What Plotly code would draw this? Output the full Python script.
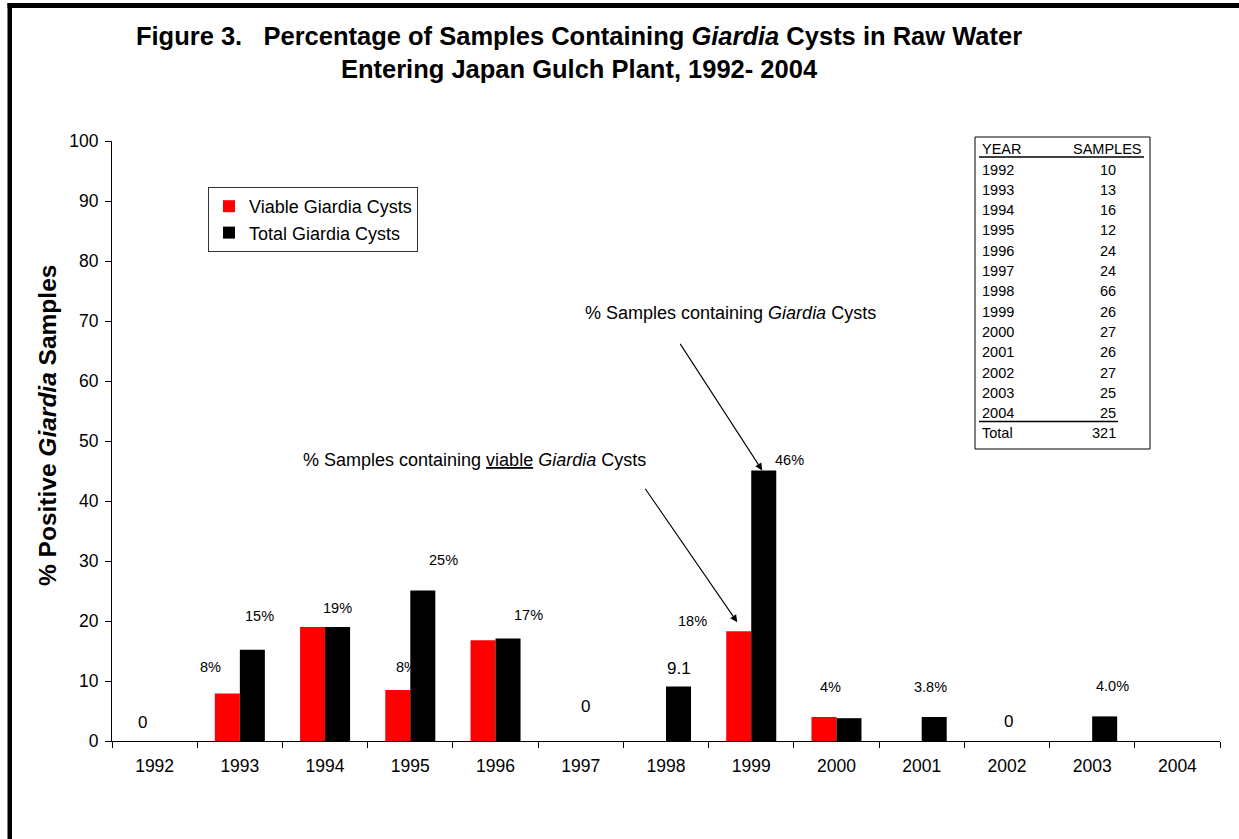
import plotly.graph_objects as go

# ---- data ----
years = ['1992', '1993', '1994', '1995', '1996', '1997', '1998',
         '1999', '2000', '2001', '2002', '2003', '2004']
viable_pct = [0, 7.9, 19.0, 8.5, 16.8, 0, 0, 18.3, 4.0, 0, 0, 0, 0]
total_pct = [0, 15.2, 19.0, 25.1, 17.1, 0, 9.1, 45.1, 3.8, 4.0, 0, 4.1, 0]
viable_labels = ['0', '8%', '', '8%', '', '0', '', '18%', '4%', '', '0', '', '']
total_labels = ['', '15%', '19%', '25%', '17%', '', '9.1', '46%', '', '3.8%', '', '4.0%', '']
sample_years = years + ['Total']
sample_counts = [10, 13, 16, 12, 24, 24, 66, 26, 27, 26, 27, 25, 25, 321]

# ---- layout helpers (pixel -> paper) ----
W, H = 1239, 839
ML, MR, MT, MB = 112, 19, 141, 98
FONT = 'Liberation Sans, Arial, sans-serif'


def px_x(px):
    return (px - ML) / (W - ML - MR)


def px_y(py):
    return (H - MB - py) / (H - MT - MB)


def note(px, py, text, size, **kw):
    # free text placed by pixel position, anchored at its centre unless told otherwise
    d = dict(x=px_x(px), y=px_y(py), xref='paper', yref='paper', showarrow=False, text=text,
             xanchor='center', yanchor='middle', font=dict(size=size, family=FONT, color='black'))
    d.update(kw)
    return d


# manual nudges for data labels (dx, dy in px from bar top centre)
viable_nudge = {'1992': (0, -19), '1993': (-17, -27), '1995': (9, -23), '1997': (17, -35),
                '1999': (-46, -10), '2000': (7, -30), '2002': (14, -20)}
total_nudge = {'1993': (7, -34), '1994': (0, -19), '1995': (21, -30), '1996': (20, -23),
               '1998': (0, -18), '1999': (26, -10), '2001': (-4, -30), '2003': (8, -30)}

fig = go.Figure()
fig.add_trace(go.Bar(x=years, y=viable_pct, name='Viable Giardia Cysts',
                     marker=dict(color='#FF0000', line=dict(width=0))))
fig.add_trace(go.Bar(x=years, y=total_pct, name='Total Giardia Cysts',
                     marker=dict(color='#000000', line=dict(width=0))))

annotations = []

# data labels (x given as category index)
for labels, vals, nudge, side in [(viable_labels, viable_pct, viable_nudge, -12.5),
                                  (total_labels, total_pct, total_nudge, 12.5)]:
    for i, (yr, lab, v) in enumerate(zip(years, labels, vals)):
        if not lab:
            continue
        dx, dy = nudge[yr]
        annotations.append(dict(x=i, y=v, xref='x', yref='y', text=lab, showarrow=False,
                                xshift=side + dx, yshift=-dy, xanchor='center', yanchor='middle',
                                font=dict(size=14.5 if '%' in lab else 17, family=FONT, color='black')))

# arrows + callout texts
i99 = years.index('1999')
annotations.append(dict(x=i99, y=total_pct[i99], xref='x', yref='y', text='', showarrow=True,
                        xshift=11, ax=-83, ay=-128, arrowhead=2, arrowsize=1.3, arrowwidth=1.1,
                        arrowcolor='black'))
annotations.append(dict(x=i99, y=viable_pct[i99], xref='x', yref='y', text='', showarrow=True,
                        xshift=-14, yshift=9, ax=-93, ay=-135, arrowhead=2, arrowsize=1.3,
                        arrowwidth=1.1, arrowcolor='black'))
annotations.append(note(730, 313, '% Samples containing <i>Giardia</i> Cysts', 18))
annotations.append(note(474, 460, '% Samples containing <u>viable</u> <i>Giardia</i> Cysts', 18))

# y-axis title
annotations.append(note(47, 426, '<b>% Positive <i>Giardia</i> Samples</b>', 24.5, textangle=-90))

# samples table
annotations.append(note(980, 149, 'YEAR', 14.5, xanchor='left'))
annotations.append(note(1144, 149, 'SAMPLES', 14.5, xanchor='right'))
for i, (yr, n) in enumerate(zip(sample_years, sample_counts)):
    py = 169.5 + 20.3 * i
    annotations.append(note(980, py, yr, 14.5, xanchor='left'))
    annotations.append(note(1118, py, str(n), 14.5, xanchor='right'))

shapes = [
    # table frame and underlines
    dict(type='rect', xref='paper', yref='paper', x0=px_x(975), x1=px_x(1150),
         y0=px_y(137), y1=px_y(449), line=dict(color='black', width=1)),
    dict(type='line', xref='paper', yref='paper', x0=px_x(979), x1=px_x(1144),
         y0=px_y(157), y1=px_y(157), line=dict(color='black', width=1.5)),
    dict(type='line', xref='paper', yref='paper', x0=px_x(979), x1=px_x(1118),
         y0=px_y(421.5), y1=px_y(421.5), line=dict(color='black', width=1.5)),
    # outer frame (left and top edges)
    dict(type='rect', xref='paper', yref='paper', x0=px_x(7.5), x1=px_x(12),
         y0=px_y(3), y1=px_y(845), fillcolor='black', line=dict(width=0)),
    dict(type='rect', xref='paper', yref='paper', x0=px_x(7.5), x1=px_x(1245),
         y0=px_y(3), y1=px_y(8), fillcolor='black', line=dict(width=0)),
]

fig.update_layout(
    width=W, height=H,
    margin=dict(l=ML, r=MR, t=MT, b=MB, autoexpand=False),
    paper_bgcolor='white', plot_bgcolor='white',
    font=dict(family=FONT, color='black'),
    barmode='group', bargap=0.413, bargroupgap=0,
    title=dict(text='Figure 3.&nbsp;&nbsp; Percentage of Samples Containing <i>Giardia</i> Cysts in Raw Water'
                    '<br>Entering Japan Gulch Plant, 1992- 2004',
               x=579 / W, xanchor='center', xref='container',
               y=1 - 45 / H, yanchor='middle', yref='container',
               font=dict(size=25.5, family=FONT, color='black', weight='bold')),
    legend=dict(x=px_x(208), y=px_y(187), xanchor='left', yanchor='top',
                bgcolor='white', bordercolor='#333333', borderwidth=1,
                font=dict(size=18, family=FONT, color='black'),
                itemwidth=30, tracegroupgap=0),
    annotations=annotations,
    shapes=shapes,
)
fig.update_xaxes(type='category', showline=True, linecolor='black', linewidth=1,
                 ticks='outside', tickson='boundaries', ticklen=6, tickcolor='black',
                 tickfont=dict(size=17.5, family=FONT, color='black'), tickangle=0,
                 ticklabelstandoff=9, showgrid=False, zeroline=False, automargin=False)
fig.update_yaxes(range=[0, 100], dtick=10, showline=True, linecolor='black', linewidth=1,
                 ticks='outside', ticklen=6, tickcolor='black',
                 tickfont=dict(size=17.5, family=FONT, color='black'),
                 ticklabelstandoff=3, showgrid=False, zeroline=False, automargin=False)

# drop the browser's default 8px body margin so the figure sits at the page corner
fig.write_html('out.html', config={'displayModeBar': False},
               post_script="document.body.style.margin = '0px';")
